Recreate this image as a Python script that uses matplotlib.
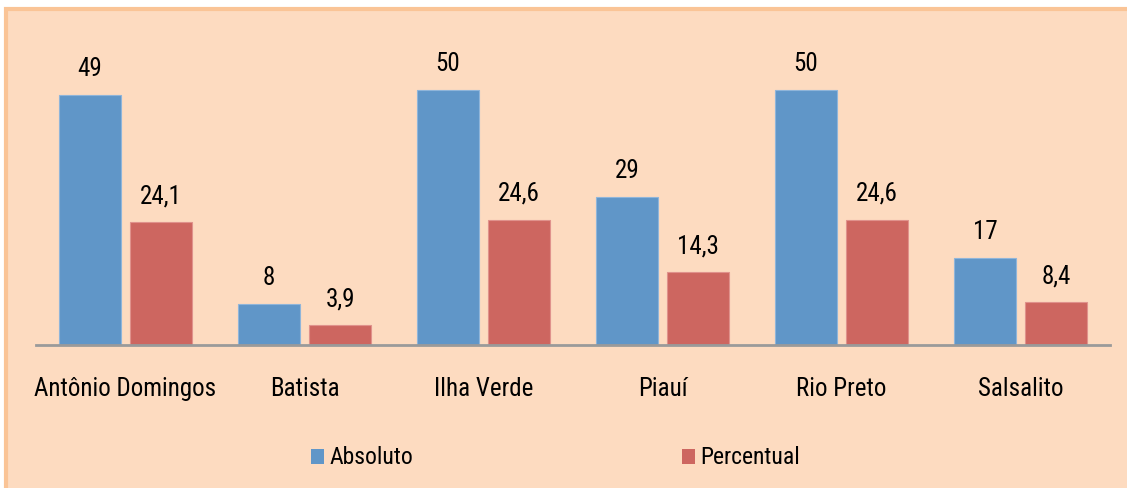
import matplotlib.pyplot as plt
from matplotlib.patches import Rectangle, Patch
from matplotlib import font_manager

bairros = ["Antônio Domingos", "Batista", "Ilha Verde", "Piauí", "Rio Preto", "Salsalito"]
absoluto = [49, 8, 50, 29, 50, 17]
percentual = [24.1, 3.9, 24.6, 14.3, 24.6, 8.4]
rotulos_abs = ["49", "8", "50", "29", "50", "17"]
rotulos_pct = ["24,1", "3,9", "24,6", "14,3", "24,6", "8,4"]

# narrow Arial-like face, first one that is installed
names = {f.name for f in font_manager.fontManager.ttflist}
fam = "Liberation Sans"
for cand in ["Liberation Sans Narrow", "Arial Narrow", "Roboto Condensed", "Archivo Narrow"]:
    if cand in names:
        fam = cand
        break
plt.rcParams["font.family"] = [fam, "DejaVu Sans"]

azul = "#6096C8"
vermelho = "#CD6660"
fundo = "#FDDBC0"

W, H = 1127, 488
fig = plt.figure(figsize=(W / 100, H / 100), dpi=100)
fig.patch.set_facecolor("white")

# chart area with orange border (only top/left edges visible)
fig.patches.append(Rectangle((6 / W, -0.1), 1.2, (H - 9) / H + 0.1, transform=fig.transFigure,
                             facecolor=fundo, edgecolor="#FAC496", linewidth=3, zorder=-5))

ax = fig.add_axes([36 / W, 143 / H, 1074 / W, 306 / H])
ax.set_facecolor("none")

x = list(range(len(bairros)))
w = 0.346
b1 = ax.bar([i - 0.198 for i in x], absoluto, width=w, color=azul, edgecolor="#8FB5DA", linewidth=0.8)
b2 = ax.bar([i + 0.2 for i in x], percentual, width=w, color=vermelho, edgecolor="#E0928C", linewidth=0.8)
ax.bar_label(b1, labels=rotulos_abs, padding=10, fontsize=18)
ax.bar_label(b2, labels=rotulos_pct, padding=10, fontsize=18)

ax.set_xlim(-0.5, 5.5)
ax.set_ylim(0, 60)
ax.set_xticks(x)
ax.set_xticklabels(bairros, fontsize=18)
ax.tick_params(axis="x", length=0, pad=23)
ax.set_yticks([])
for s in ["top", "right", "left"]:
    ax.spines[s].set_visible(False)
ax.spines["bottom"].set_color("#9A9A9A")
ax.spines["bottom"].set_linewidth(2)

handles = [Patch(facecolor=azul), Patch(facecolor=vermelho)]
fig.legend(handles, ["Absoluto", "Percentual"], loc="center left", bbox_to_anchor=(311 / W, 1 - 458 / H),
           ncol=2, frameon=False, fontsize=17, handlelength=0.55, handleheight=0.6,
           handletextpad=0.22, columnspacing=11.4, borderpad=0, borderaxespad=0)

fig.savefig("out.png", dpi=100, facecolor=fig.get_facecolor())
